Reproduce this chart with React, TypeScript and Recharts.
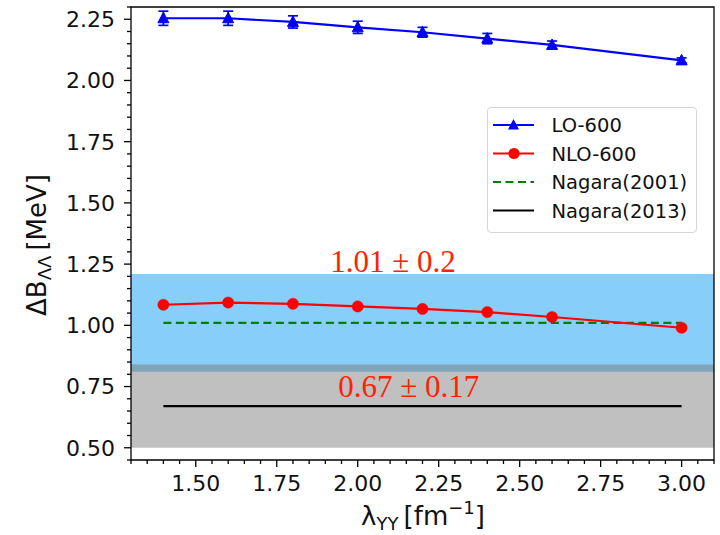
import React from 'react';
import {
  LineChart,
  Line,
  XAxis,
  YAxis,
  ErrorBar,
  ReferenceArea,
  ReferenceDot,
  Legend,
  Label,
} from 'recharts';

// ---- data ----
const lambdaYY = [1.4, 1.6, 1.8, 2.0, 2.2, 2.4, 2.6, 3.0];
const lo600 = [2.254, 2.254, 2.239, 2.217, 2.197, 2.171, 2.145, 2.082];
const lo600Err = [0.029, 0.029, 0.025, 0.025, 0.02, 0.021, 0.016, 0.01];
const nlo600 = [1.084, 1.093, 1.088, 1.077, 1.067, 1.054, 1.034, 0.99];
const nagara2001 = 1.01;
const nagara2001Err = 0.2;
const nagara2013 = 0.67;
const nagara2013Err = 0.17;
const seriesNames = ['LO-600', 'NLO-600', 'Nagara(2001)', 'Nagara(2013)'];
const bandLabels = ['1.01 \u00b1 0.2', '0.67 \u00b1 0.17'];
const xMajorTicks = [1.5, 1.75, 2.0, 2.25, 2.5, 2.75, 3.0];
const yMajorTicks = [0.5, 0.75, 1.0, 1.25, 1.5, 1.75, 2.0, 2.25];
const xDomain = [1.3, 3.1];
const yDomain = [0.45, 2.3];

const xTicks = Array.from({ length: 37 }, (_, i) => +(1.3 + i * 0.05).toFixed(2));
const yTicks = Array.from({ length: 38 }, (_, i) => +(0.45 + i * 0.05).toFixed(2));

const data = lambdaYY.map((x, i) => ({
  x,
  lo: lo600[i],
  loErr: lo600Err[i],
  nlo: nlo600[i],
  n2001: nagara2001,
  n2013: nagara2013,
}));

const isMajor = (v: number, majors: number[]) => majors.some((m) => Math.abs(m - v) < 1e-6);

const FONT = 'DejaVu Sans';
const TICK_COLOR = '#000';

const YTick = (props: any) => {
  const { x, y, payload } = props;
  const major = isMajor(payload.value, yMajorTicks);
  return (
    <g>
      <line x1={x - (major ? 7 : 4)} x2={x} y1={y} y2={y} stroke={TICK_COLOR} strokeWidth={1.3} />
      {major && (
        <text
          x={x - 16}
          y={y}
          dy="0.36em"
          textAnchor="end"
          fontFamily={FONT}
          fontSize={22}
          fill="#111"
        >
          {payload.value.toFixed(2)}
        </text>
      )}
    </g>
  );
};

const XTick = (props: any) => {
  const { x, y, payload } = props;
  const major = isMajor(payload.value, xMajorTicks);
  return (
    <g>
      <line x1={x} x2={x} y1={y} y2={y + (major ? 7 : 4)} stroke={TICK_COLOR} strokeWidth={1.3} />
      {major && (
        <text
          x={x}
          y={y + 31}
          textAnchor="middle"
          fontFamily={FONT}
          fontSize={22}
          fill="#111"
        >
          {payload.value.toFixed(2)}
        </text>
      )}
    </g>
  );
};

const TriangleDot = (props: any) => {
  const { cx, cy } = props;
  if (cx == null || cy == null) return null;
  return (
    <polygon
      key={`t-${cx}`}
      points={`${cx},${cy - 6} ${cx - 5.5},${cy + 4.5} ${cx + 5.5},${cy + 4.5}`}
      fill="#0000ff"
      stroke="#0000ff"
      strokeWidth={1}
    />
  );
};

const CircleDot = (props: any) => {
  const { cx, cy } = props;
  if (cx == null || cy == null) return null;
  return <circle key={`c-${cx}`} cx={cx} cy={cy} r={5.6} fill="#ff0000" stroke="#ff0000" strokeWidth={0.5} />;
};

const LegendBox = () => {
  const rows = [18, 46.5, 75, 103.5];
  return (
    <div
      style={{
        width: 210,
        height: 126,
        border: '1px solid #d6d6d6',
        borderRadius: 4,
        background: 'rgba(255,255,255,0.85)',
        boxSizing: 'border-box',
      }}
    >
      <svg width={210} height={126} style={{ position: 'absolute', left: 0, top: 0 }}>
        <line x1={6} x2={47} y1={rows[0]} y2={rows[0]} stroke="#0000ff" strokeWidth={2.2} />
        <polygon
          points={`26.5,${rows[0] - 6} 21,${rows[0] + 4.5} 32,${rows[0] + 4.5}`}
          fill="#0000ff"
        />
        <line x1={6} x2={47} y1={rows[1]} y2={rows[1]} stroke="#ff0000" strokeWidth={2.2} />
        <circle cx={27} cy={rows[1]} r={5.6} fill="#ff0000" />
        <line
          x1={6}
          x2={47}
          y1={rows[2]}
          y2={rows[2]}
          stroke="#008000"
          strokeWidth={2.2}
          strokeDasharray="8 4.5"
        />
        <line x1={6} x2={47} y1={rows[3]} y2={rows[3]} stroke="#000" strokeWidth={2.2} />
        {seriesNames.map((n, i) => (
          <text
            key={n}
            x={64.5}
            y={rows[i]}
            dy="0.36em"
            fontFamily={FONT}
            fontSize={19.5}
            fill="#111"
          >
            {n}
          </text>
        ))}
      </svg>
    </div>
  );
};

const YLabel = () => (
  <text
    transform="rotate(-90, 46, 245)"
    x={46}
    y={245}
    textAnchor="middle"
    fontFamily={FONT}
    fontSize={26}
    fill="#111"
  >
    {'\u0394B'}
    <tspan fontSize={18} dy={5}>
      {'\u039b\u039b'}
    </tspan>
    <tspan dy={-5}>{'\u2009[MeV]'}</tspan>
  </text>
);

const XLabel = () => (
  <text x={423} y={525} textAnchor="middle" fontFamily={FONT} fontSize={26} fill="#111">
    {'\u03bb'}
    <tspan fontSize={18} dy={5}>
      YY
    </tspan>
    <tspan dy={-5}>{'\u2009[fm'}</tspan>
    <tspan fontSize={18} dy={-11}>
      {'\u22121'}
    </tspan>
    <tspan dy={11}>]</tspan>
  </text>
);

const BandText = (text: string) => (p: any) => {
  const vb = p.viewBox || {};
  return (
    <text
      x={vb.x}
      y={vb.y}
      fontFamily="Liberation Serif"
      fontSize={31}
      fill="#ff2200"
      textAnchor="start"
    >
      {text}
    </text>
  );
};

export default function App() {
  return (
    <div style={{ position: 'absolute', left: 0, top: 0, width: 720, height: 535, background: '#fff' }}>
      <LineChart
        width={720}
        height={535}
        data={data}
        margin={{ top: 7, right: 6, bottom: 0, left: 0 }}
      >
        <XAxis
          dataKey="x"
          type="number"
          domain={xDomain}
          ticks={xTicks}
          interval={0}
          allowDataOverflow
          axisLine={false}
          tickLine={false}
          tickSize={0}
          tickMargin={0}
          tick={<XTick />}
          height={75}
        >
          <Label content={<XLabel />} />
        </XAxis>
        <YAxis
          type="number"
          domain={yDomain}
          ticks={yTicks}
          interval={0}
          allowDataOverflow
          axisLine={false}
          tickLine={false}
          tickSize={0}
          tickMargin={0}
          tick={<YTick />}
          width={131}
        >
          <Label content={<YLabel />} />
        </YAxis>

        <ReferenceArea
          y1={nagara2001 - nagara2001Err}
          y2={nagara2001 + nagara2001Err}
          fill="#87cefa"
          fillOpacity={1}
          stroke="none"
        />
        <ReferenceArea
          y1={nagara2013 - nagara2013Err}
          y2={nagara2013 + nagara2013Err}
          fill="#c0c0c0"
          fillOpacity={1}
          stroke="none"
        />
        <ReferenceArea
          y1={nagara2001 - nagara2001Err}
          y2={nagara2013 + nagara2013Err}
          fill="#7fa5bc"
          fillOpacity={1}
          stroke="none"
        />

        <Line
          dataKey="n2013"
          stroke="#000"
          strokeWidth={2.2}
          dot={false}
          isAnimationActive={false}
        />
        <Line
          dataKey="n2001"
          stroke="#008000"
          strokeWidth={2.2}
          strokeDasharray="8 4.5"
          dot={false}
          isAnimationActive={false}
        />
        <Line
          dataKey="nlo"
          stroke="#ff0000"
          strokeWidth={2.2}
          dot={<CircleDot />}
          isAnimationActive={false}
        />
        <Line
          dataKey="lo"
          stroke="#0000ff"
          strokeWidth={2.2}
          dot={<TriangleDot />}
          isAnimationActive={false}
        >
          <ErrorBar dataKey="loErr" width={5} stroke="#0000ff" strokeWidth={1.7} direction="y" />
        </Line>

        <ReferenceDot
          x={1.915}
          y={1.219}
          r={0}
          fill="none"
          stroke="none"
          label={{ content: BandText(bandLabels[0]) }}
        />
        <ReferenceDot
          x={1.94}
          y={0.707}
          r={0}
          fill="none"
          stroke="none"
          label={{ content: BandText(bandLabels[1]) }}
        />

        <ReferenceArea
          x1={xDomain[0]}
          x2={xDomain[1]}
          y1={yDomain[0]}
          y2={yDomain[1]}
          fill="none"
          stroke="#000"
          strokeWidth={1.3}
          fillOpacity={0}
        />

        <Legend
          layout="vertical"
          align="center"
          verticalAlign="middle"
          content={<LegendBox />}
          wrapperStyle={{ position: 'absolute', left: 487, top: 107, width: 210, height: 126 }}
        />
      </LineChart>
    </div>
  );
}
